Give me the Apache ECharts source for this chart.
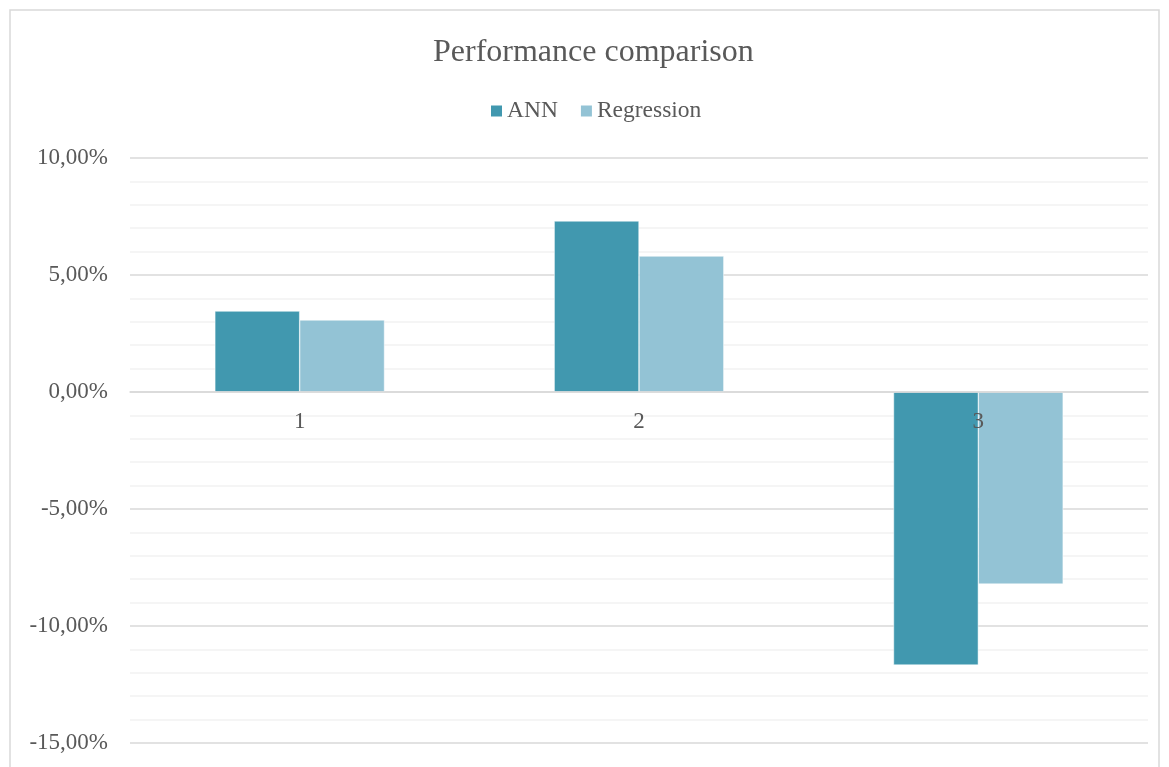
<!DOCTYPE html>
<html>
<head>
<meta charset="utf-8">
<script src="https://cdn.jsdelivr.net/npm/echarts@6/dist/echarts.min.js"></script>
<style>
  html, body { margin: 0; padding: 0; background: #fff; }
  #chart { width: 1169px; height: 767px; }
</style>
</head>
<body>
<div id="chart"></div>
<script>
  // data
  var categories = ['1', '2', '3'];
  var annValues = [0.0346, 0.0731, -0.1167];
  var regressionValues = [0.0308, 0.0581, -0.0821];
  var seriesNames = ['ANN', 'Regression'];
  var colors = ['#4198af', '#93c3d5'];
  var font = '"Liberation Serif", "Times New Roman", serif';

  var myChart = echarts.init(document.getElementById('chart'));
  var option = {
    backgroundColor: '#ffffff',
    color: colors,
    textStyle: { fontFamily: font },
    graphic: [{
      type: 'rect',
      shape: { x: 10, y: 10, width: 1149, height: 800 },
      style: { fill: 'none', stroke: '#d9d9d9', lineWidth: 1.5 },
      silent: true
    }],
    title: {
      text: 'Performance comparison',
      left: 428,
      top: 32,
      textStyle: { fontFamily: font, fontSize: 32, fontWeight: 'normal', color: '#595959' }
    },
    legend: {
      data: seriesNames,
      top: 94,
      left: 484,
      itemWidth: 13,
      itemHeight: 13,
      itemGap: 21,
      icon: 'rect',
      textStyle: { fontFamily: font, fontSize: 23.5, color: '#595959', padding: [0, 0, 0, -1] }
    },
    grid: {
      left: 130,
      right: 21,
      top: 158,
      bottom: 24,
      containLabel: false,
      outerBoundsMode: 'none'
    },
    xAxis: {
      type: 'category',
      data: categories,
      z: 5,
      // category axis sits on the zero line (offset up from the grid bottom)
      offset: -351,
      axisLine: { show: true, onZero: false, lineStyle: { color: '#d9d9d9', width: 1.5 } },
      axisTick: { show: false },
      axisLabel: { fontFamily: font, fontSize: 23, color: '#595959', margin: 18 },
      splitLine: { show: false }
    },
    yAxis: {
      type: 'value',
      min: -0.15,
      max: 0.10,
      interval: 0.05,
      axisLine: { show: false },
      axisTick: { show: false },
      axisLabel: {
        fontFamily: font, fontSize: 23, color: '#595959', margin: 22,
        formatter: function (v) { return (v * 100).toFixed(2).replace('.', ',') + '%'; }
      },
      splitLine: { show: true, lineStyle: { color: '#d9d9d9', width: 1.5 } },
      minorTick: { show: false, splitNumber: 5 },
      minorSplitLine: { show: true, lineStyle: { color: '#f2f2f2', width: 1.5 } }
    },
    series: [
      {
        name: seriesNames[0],
        type: 'bar',
        data: annValues,
        barGap: '0%',
        barCategoryGap: '50%',
        itemStyle: { color: colors[0], borderColor: '#ffffff', borderWidth: 0.5 }
      },
      {
        name: seriesNames[1],
        type: 'bar',
        data: regressionValues,
        barGap: '0%',
        barCategoryGap: '50%',
        itemStyle: { color: colors[1], borderColor: '#ffffff', borderWidth: 0.5 }
      }
    ]
  };
  myChart.setOption(option);
</script>
</body>
</html>
